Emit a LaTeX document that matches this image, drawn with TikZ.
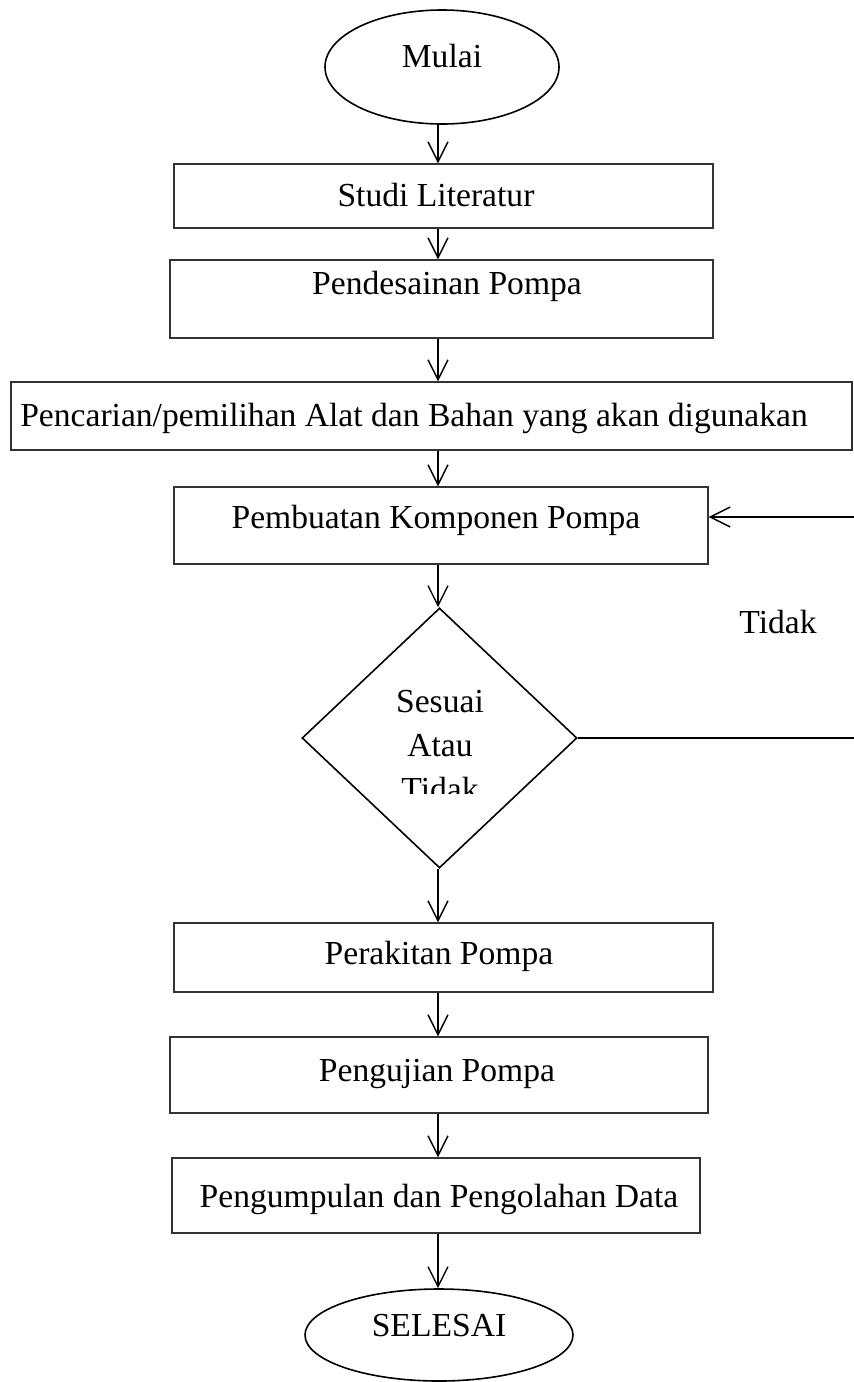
\documentclass[tikz,border=0pt]{standalone}
\usepackage{fontspec}
\setmainfont{Liberation Serif}
\usetikzlibrary{shapes.geometric,arrows.meta}
\begin{document}
\begin{tikzpicture}[x=0.5pt,y=-0.5pt,
  every node/.style={font=\fontsize{16.8pt}{22pt}\selectfont},
  box/.style={draw=black!80, line width=0.65pt, rectangle, inner sep=0pt},
  oval/.style={draw=black, line width=0.8pt, ellipse, inner sep=0pt},
  decision/.style={draw=black, line width=0.8pt, diamond, inner sep=0pt},
  lbl/.style={text height=11pt, text depth=0pt, inner sep=0pt},
  arr/.style={draw=black, line width=0.7pt, -{Straight Barb[length=10pt,width=10pt]}},
  link/.style={draw=black, line width=0.9pt}]
\useasboundingbox (0,0) rectangle (853,1382);
\coordinate (ax) at (438,0);

\node[oval, minimum width=117pt, minimum height=57pt,
  label={[lbl,yshift=5.5pt]center:Mulai}] (m) at (442,67) {};
\node[box, minimum width=269.5pt, minimum height=32pt,
  label={[lbl,xshift=-3.75pt,yshift=0.5pt]center:Studi Literatur}] (s1) at (443.5,196) {};
\node[box, minimum width=271.5pt, minimum height=39pt,
  label={[lbl,xshift=2.75pt,yshift=8pt]center:Pendesainan Pompa}] (s2) at (441.5,299) {};
\node[box, minimum width=420.5pt, minimum height=34pt,
  label={[lbl,xshift=-8.75pt,yshift=0.5pt]center:Pencarian/pemilihan Alat dan Bahan yang akan digunakan}] (s3) at (431.5,416) {};
\node[box, minimum width=267pt, minimum height=38.5pt,
  label={[lbl,xshift=-2.5pt,yshift=4.25pt]center:Pembuatan Komponen Pompa}] (s4) at (441,525.5) {};
\node[decision, minimum width=137.5pt, minimum height=130pt] (d) at (439.5,738) {};
\begin{scope}
  \clip (300,600) rectangle (580,793);
  \node[align=center, inner sep=0pt] (dq) at (440,746) {Sesuai\\Atau\\Tidak};
\end{scope}
\node[lbl] (tk) at (778,622.5) {Tidak};
\node[box, minimum width=269.5pt, minimum height=34.5pt,
  label={[lbl,xshift=-2.25pt,yshift=2.25pt]center:Perakitan Pompa}] (s5) at (443.5,957.5) {};
\node[box, minimum width=269pt, minimum height=38pt,
  label={[lbl,xshift=-1pt,yshift=2.5pt]center:Pengujian Pompa}] (s6) at (439,1075) {};
\node[box, minimum width=264pt, minimum height=37.5pt,
  label={[lbl,xshift=1.5pt,yshift=-0.25pt]center:Pengumpulan dan Pengolahan Data}] (s7) at (436,1195.5) {};
\node[oval, minimum width=134pt, minimum height=46pt,
  label={[lbl,yshift=5pt]center:SELESAI}] (e) at (439,1335) {};

\draw[arr] (m.south -| ax) -- (s1.north -| ax);
\draw[arr] (s1.south -| ax) -- (s2.north -| ax);
\draw[arr] (s2.south -| ax) -- (s3.north -| ax);
\draw[arr] (s3.south -| ax) -- (s4.north -| ax);
\draw[arr] (s4.south -| ax) -- (d.north -| ax);
\draw[arr] (d.south -| ax) -- (s5.north -| ax);
\draw[arr] (s5.south -| ax) -- (s6.north -| ax);
\draw[arr] (s6.south -| ax) -- (s7.north -| ax);
\draw[arr] (s7.south -| ax) -- (e.north -| ax);

\coordinate (c1) at (857,738);
\coordinate (c2) at (857,517);
\draw[link] (d.east) -- (c1) -- (c2);
\draw[arr] (c2) -- (c2 -| s4.east);
\end{tikzpicture}
\end{document}
